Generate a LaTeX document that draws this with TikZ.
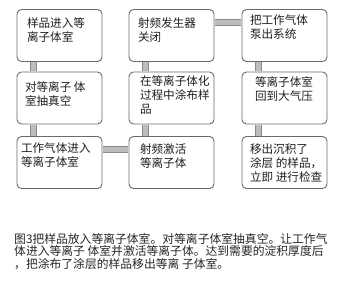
\documentclass[tikz,border=0pt]{standalone}
\usepackage{fontspec}
\setmainfont{Noto Sans CJK SC}
\newcommand\bt[3]{\parbox[c][52pt][t]{85pt}{\fontsize{11.6}{14}\selectfont\leftskip=#2pt\rightskip=0pt plus 1fil\parindent=0pt\vspace*{#1pt}\rule{0pt}{11pt}#3}}
\definecolor{boxline}{HTML}{6A6A6A}
\definecolor{barfill}{HTML}{BDBDBD}
\definecolor{barline}{HTML}{8A8A8A}
\tikzset{
  flowbox/.style={draw=boxline, line width=0.9pt, rounded corners=4.5pt, fill=white, inner sep=0pt, text=black!88},
  barout/.style={draw=barline, line width=7pt},
  barin/.style={draw=barfill, line width=5pt},
}
\begin{document}
\begin{tikzpicture}[x=1pt,y=-1pt]
\useasboundingbox[fill=white] (0,0) rectangle (358,295);
% boxes
\node[flowbox] (a1) at (59.5,35.5) {\bt{7.4}{10}{样品进入等\\离子体室}};
\node[flowbox] (a2) at (59.5,98) {\bt{8.4}{8}{对等离子 体\\室抽真空}};
\node[flowbox] (a3) at (59.5,162.5) {\bt{5.4}{4}{工作气体进入\\等离子体室}};
\node[flowbox] (b1) at (171.5,35.5) {\bt{7.4}{9}{射频发生器\\关闭}};
\node[flowbox] (b2) at (171.5,98) {\bt{2.4}{11}{在等离子体化\\过程中涂布样\\品}};
\node[flowbox] (b3) at (171.5,162.5) {\bt{6.4}{11}{射频激活\\等离子体}};
\node[flowbox] (c1) at (284.5,35.5) {\bt{4.4}{8}{把工作气体\\泵出系统}};
\node[flowbox] (c2) at (284.5,98) {\bt{3.4}{13}{等离子体室\\回到大气压}};
\node[flowbox] (c3) at (284.5,162.5) {\bt{6.4}{8}{移出沉积了\\涂层 的样品，\\立即 进行检查}};
% connectors
\foreach \u/\v in {a1/a2,a2/a3,b1/b2,b2/b3,c1/c2,c2/c3}{
  \draw[barout] ([xshift=-26pt,yshift=-0.5pt]\u.south) -- ([xshift=-26pt,yshift=0.5pt]\v.north);
  \draw[barin] ([xshift=-26pt,yshift=-0.5pt]\u.south) -- ([xshift=-26pt,yshift=0.5pt]\v.north);
}
\foreach \u/\v in {b1/c1,a3/b3}{
  \draw[barout] ([xshift=0.5pt,yshift=13pt]\u.east) -- ([xshift=-0.5pt,yshift=13pt]\v.west);
  \draw[barin] ([xshift=0.5pt,yshift=13pt]\u.east) -- ([xshift=-0.5pt,yshift=13pt]\v.west);
}
% caption
\node[anchor=base west, inner sep=0pt, text=black!85] (cap) at (14,243.4) {\parbox[t]{340pt}{\fontsize{11.8}{12.5}\selectfont\parindent=0pt 图3把样品放入等离子体室。对等离子体室抽真空。让工作气\\体进入等离子 体室并激活等离子体。达到需要的淀积厚度后\\，把涂布了涂层的样品移出等离 子体室。}};
\end{tikzpicture}
\end{document}
